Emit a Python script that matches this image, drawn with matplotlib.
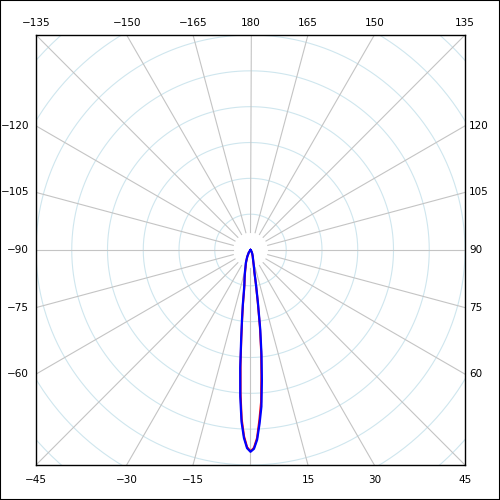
import numpy as np
import matplotlib
matplotlib.use('Agg')
import matplotlib.pyplot as plt
from matplotlib.patches import Rectangle

# angle 0 points down, positive angles go counterclockwise
theta_deg = [-60, -35, -26, -20, -14, -12, -10, -9, -8, -7, -6, -5, -4, -3, -2, -1, 0,
             1, 2, 3, 4, 5, 6, 7, 8, 9, 10, 12, 14, 20, 26, 35, 60]
r_blue = [0.0, 0.08, 0.21, 0.38, 0.65, 0.80, 1.00, 1.20, 1.55, 1.95, 2.50, 3.30, 4.10, 4.80, 5.25, 5.53, 5.63,
          5.55, 5.30, 4.85, 4.38, 3.65, 2.95, 2.25, 1.50, 1.00, 0.65, 0.45, 0.32, 0.18, 0.11, 0.05, 0.0]
r_red = [0.0, 0.08, 0.20, 0.36, 0.62, 0.78, 0.97, 1.15, 1.50, 1.90, 2.45, 3.20, 4.00, 4.72, 5.20, 5.50, 5.62,
         5.52, 5.25, 4.75, 4.25, 3.50, 2.85, 2.15, 1.45, 0.95, 0.62, 0.43, 0.31, 0.17, 0.10, 0.05, 0.0]

spoke_angles = list(range(-165, 181, 15))
ring_radii = [1, 2, 3, 4, 5, 6, 7, 8]
R = 6.0  # half size of the square frame in radial units


def to_xy(theta, r):
    t = np.radians(np.asarray(theta, dtype=float))
    r = np.asarray(r, dtype=float)
    return r * np.sin(t), -r * np.cos(t)


fig = plt.figure(figsize=(5, 5), dpi=100)
ax = fig.add_axes([36 / 500, 35 / 500, 429 / 500, 430 / 500])
ax.set_xlim(-R, R)
ax.set_ylim(-R, R)
ax.set_xticks([])
ax.set_yticks([])
for s in ax.spines.values():
    s.set_linewidth(1.0)
    s.set_color('black')

# rings
tt = np.linspace(0, 360, 361)
for rr in ring_radii:
    x, y = to_xy(tt, np.full_like(tt, rr))
    ax.plot(x, y, color='#cfe6ee', lw=0.8, zorder=1)

# spokes
for a in spoke_angles:
    x, y = to_xy([a, a], [0.5, 9])
    ax.plot(x, y, color='#c4c4c4', lw=0.8, zorder=2)

# data
xr, yr = to_xy(theta_deg, r_red)
ax.plot(xr, yr, color='red', lw=1.5, zorder=3)
xb, yb = to_xy(theta_deg, r_blue)
ax.plot(xb, yb, color='blue', lw=1.6, zorder=4)

# labels where the spokes meet the frame
fs = 7.5
for a in spoke_angles:
    t = np.radians(a)
    lab = str(a).replace('-', '\u2212')
    if -45 <= a <= 45:
        if a == 0:
            continue
        ax.annotate(lab, (R * np.tan(t), -R), xytext=(0, -7), textcoords='offset points',
                    ha='center', va='top', fontsize=fs, annotation_clip=False)
    elif 45 < a < 135:
        ax.annotate(lab, (R, -R * np.cos(t) / np.sin(t)), xytext=(3, 0), textcoords='offset points',
                    ha='left', va='center', fontsize=fs, annotation_clip=False)
    elif -135 < a < -45:
        ax.annotate(lab, (-R, R * np.cos(t) / np.sin(t)), xytext=(-5, 0), textcoords='offset points',
                    ha='right', va='center', fontsize=fs, annotation_clip=False)
    else:
        ax.annotate(lab, (-R * np.tan(t), R), xytext=(0, 5), textcoords='offset points',
                    ha='center', va='bottom', fontsize=fs, annotation_clip=False)

fig.patches.append(Rectangle((0, 0), 1, 1, transform=fig.transFigure, fill=False,
                             edgecolor='black', lw=1.5))

fig.savefig('out.png', dpi=100)
